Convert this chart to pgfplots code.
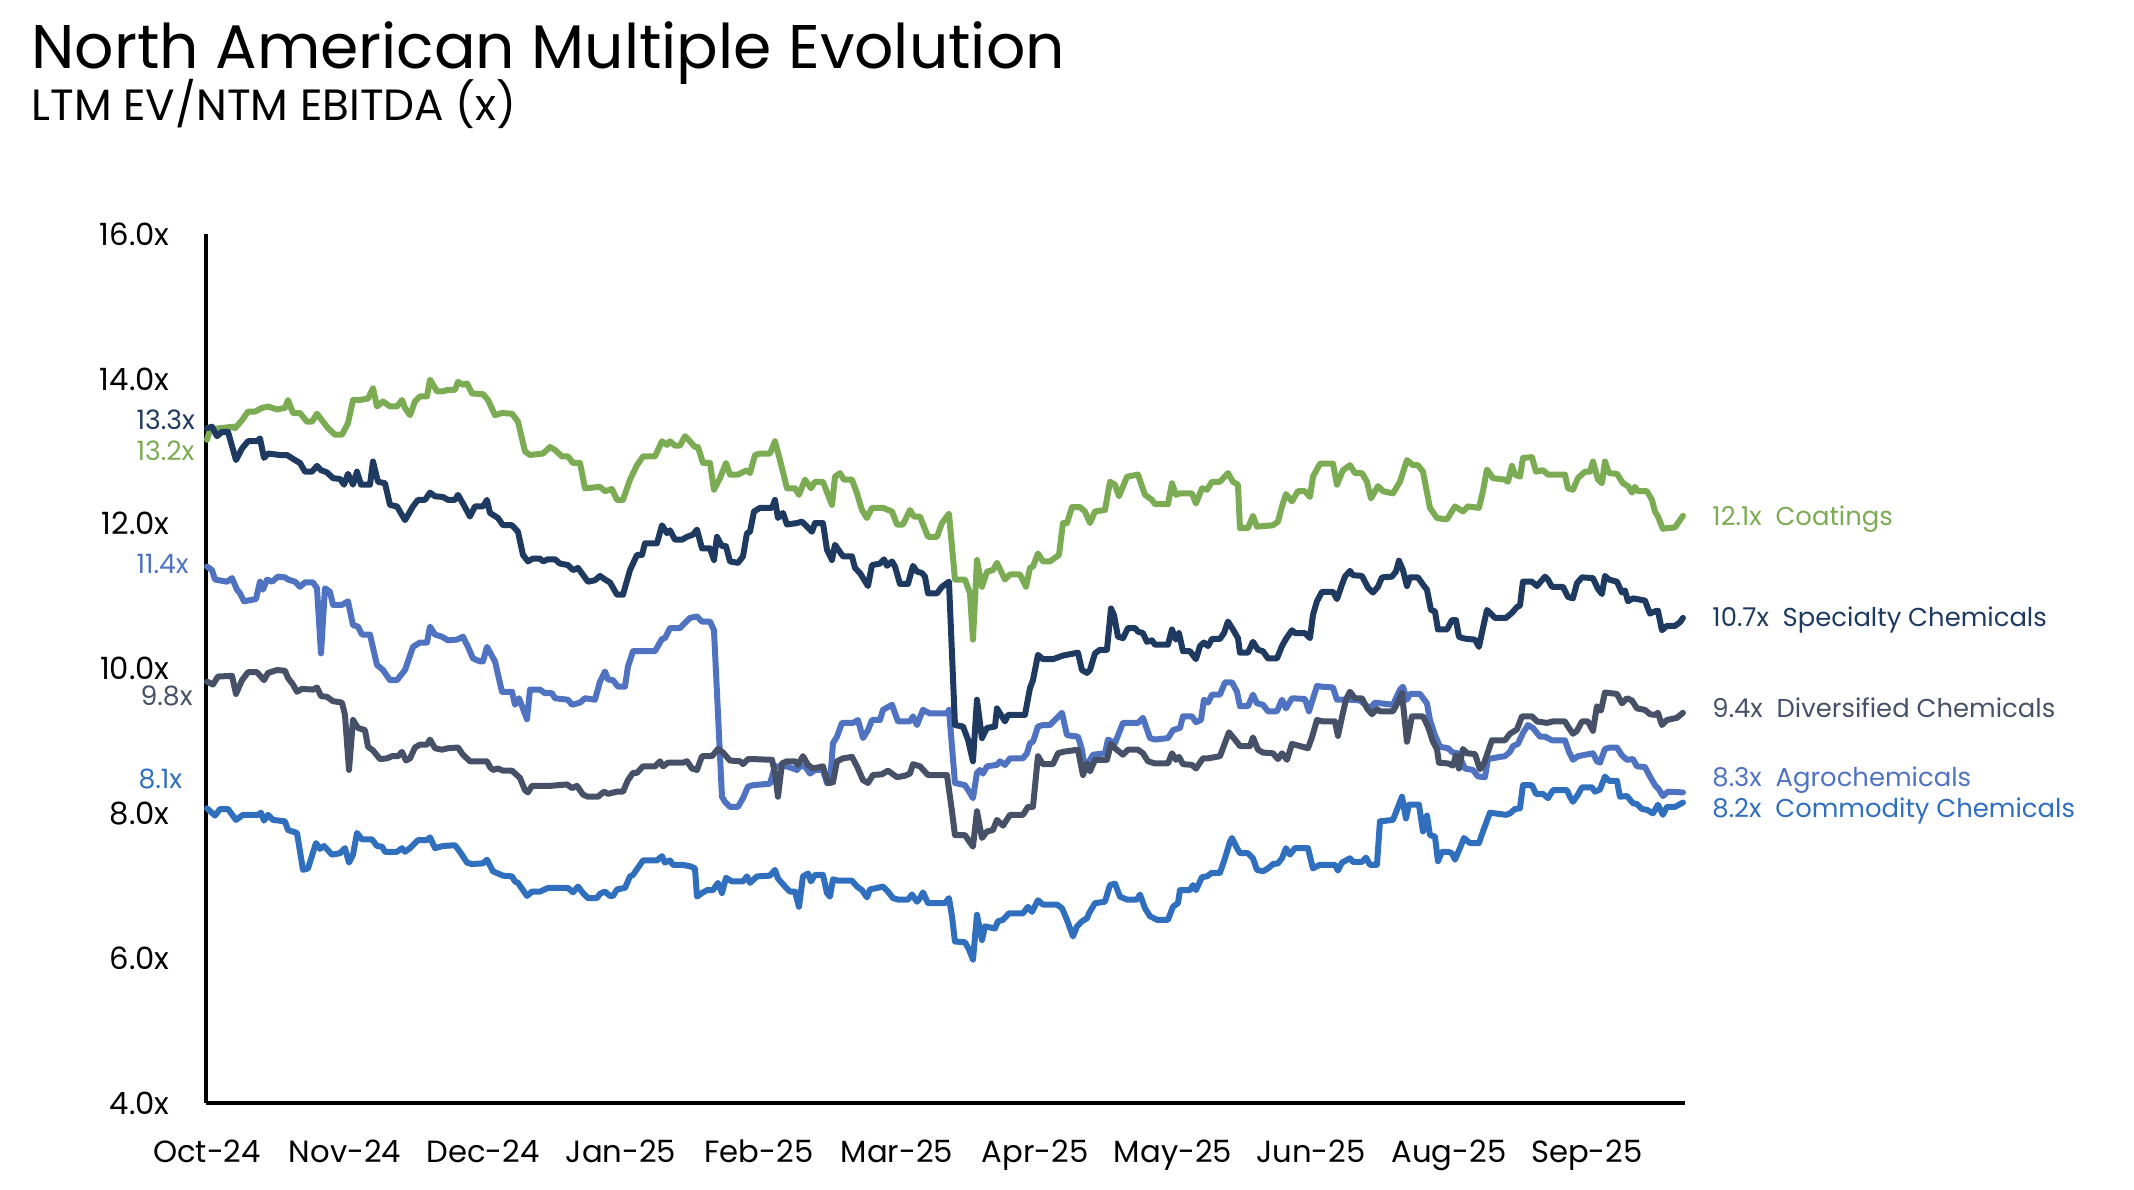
\documentclass[border=0pt]{standalone}
\usepackage{fontspec}
\setmainfont{Poppins}
\usepackage{pgfplots}
\pgfplotsset{compat=1.18}
\definecolor{coat}{HTML}{7BAC53}
\definecolor{spec}{HTML}{1F3A60}
\definecolor{divc}{HTML}{465167}
\definecolor{agro}{HTML}{5073C1}
\definecolor{comm}{HTML}{2F6FBD}
\begin{document}
\begin{tikzpicture}[x=1pt,y=1pt]
\useasboundingbox (-77.25,-32.625) rectangle (723,413.625);
\node[anchor=base west, inner sep=0pt, font=\fontsize{23.1}{26}\selectfont] at (-65.6,387.75) {North American Multiple Evolution};
\node[anchor=base west, inner sep=0pt, font=\fontsize{16.4}{19}\selectfont] at (-65.6,368.25) {LTM EV/NTM EBITDA (x)};
\begin{axis}[
  at={(0,0)}, anchor=south west, scale only axis,
  width=554.6pt, height=325.8pt,
  xmin=0, xmax=1479, ymin=4, ymax=16,
  enlargelimits=false, clip=false,
  axis lines=left,
  axis line style={-, line width=1.25pt, black},
  major tick length=0pt, tick style={draw=none},
  ytick={4,6,8,10,12,14,16},
  yticklabels={4.0x,6.0x,8.0x,10.0x,12.0x,14.0x,16.0x},
  xtick={1,139,277,415,553,691,829,967,1105,1243,1381},
  xticklabels={Oct-24,Nov-24,Dec-24,Jan-25,Feb-25,Mar-25,Apr-25,May-25,Jun-25,Aug-25,Sep-25},
  tick label style={font=\fontsize{11.5}{13}\selectfont, inner sep=0pt, text=black},
  yticklabel style={anchor=east, xshift=-13.5pt},
  xticklabel style={anchor=base, yshift=-22.3pt},
  every axis plot/.append style={line width=2.25pt, line join=round, line cap=round, mark=none},
]
% Coatings
\addplot[coat] coordinates {(1,13.16)(4,13.30)(14,13.32)(26,13.34)(29,13.32)(36,13.43)(42,13.55)(49,13.55)(56,13.60)(62,13.62)(71,13.58)(79,13.60)(82,13.71)(87,13.53)(94,13.53)(101,13.41)(106,13.41)(111,13.52)(116,13.43)(122,13.32)(129,13.23)(136,13.23)(142,13.39)(147,13.71)(154,13.71)(162,13.73)(167,13.87)(171,13.62)(177,13.69)(184,13.62)(191,13.62)(196,13.71)(199,13.60)(204,13.50)(209,13.69)(214,13.76)(221,13.76)(224,13.99)(231,13.83)(237,13.83)(242,13.85)(249,13.85)(252,13.96)(257,13.92)(261,13.94)(266,13.80)(277,13.79)(282,13.71)(289,13.50)(296,13.53)(306,13.52)(312,13.41)(319,13.00)(324,12.95)(337,12.97)(344,13.06)(349,13.02)(356,12.93)(362,12.93)(367,12.84)(374,12.84)(379,12.49)(394,12.51)(399,12.45)(406,12.48)(411,12.33)(417,12.33)(424,12.61)(431,12.81)(437,12.93)(449,12.93)(456,13.14)(461,13.09)(464,13.14)(469,13.08)(474,13.08)(479,13.21)(484,13.14)(489,13.06)(492,13.06)(497,12.84)(504,12.84)(508,12.47)(514,12.63)(520,12.84)(524,12.68)(532,12.68)(541,12.74)(544,12.70)(549,12.95)(554,12.97)(564,12.97)(569,13.14)(574,12.88)(581,12.49)(589,12.49)(593,12.40)(599,12.61)(605,12.49)(609,12.58)(617,12.58)(626,12.26)(629,12.65)(634,12.70)(638,12.61)(646,12.61)(651,12.42)(656,12.19)(661,12.08)(666,12.22)(677,12.22)(686,12.17)(691,11.99)(697,11.99)(704,12.19)(708,12.10)(714,12.10)(722,11.82)(731,11.82)(736,12.01)(743,12.14)(749,11.23)(759,11.23)(764,11.04)(767,10.40)(771,11.50)(776,11.13)(781,11.34)(787,11.36)(791,11.46)(799,11.23)(804,11.30)(814,11.30)(820,11.13)(824,11.39)(827,11.41)(832,11.59)(837,11.48)(844,11.48)(853,11.57)(857,12.01)(861,12.01)(866,12.23)(874,12.23)(879,12.17)(884,12.01)(889,12.17)(899,12.19)(904,12.58)(909,12.54)(913,12.38)(921,12.65)(932,12.68)(939,12.40)(946,12.33)(949,12.27)(962,12.27)(966,12.56)(970,12.40)(974,12.42)(986,12.42)(990,12.28)(996,12.49)(1001,12.47)(1006,12.58)(1014,12.58)(1022,12.70)(1027,12.58)(1032,12.54)(1034,11.94)(1042,11.94)(1047,12.11)(1051,11.96)(1067,11.98)(1072,12.03)(1076,12.24)(1080,12.41)(1086,12.31)(1092,12.45)(1099,12.45)(1104,12.37)(1107,12.65)(1114,12.83)(1127,12.83)(1131,12.54)(1137,12.74)(1144,12.81)(1149,12.70)(1156,12.70)(1161,12.58)(1165,12.35)(1172,12.52)(1177,12.45)(1187,12.42)(1194,12.58)(1201,12.88)(1207,12.81)(1212,12.81)(1217,12.72)(1224,12.22)(1231,12.08)(1241,12.06)(1249,12.24)(1257,12.17)(1262,12.24)(1273,12.22)(1277,12.45)(1281,12.75)(1287,12.63)(1299,12.61)(1302,12.58)(1306,12.80)(1309,12.68)(1314,12.65)(1317,12.91)(1326,12.92)(1330,12.72)(1337,12.74)(1342,12.68)(1359,12.68)(1362,12.49)(1367,12.47)(1372,12.63)(1379,12.72)(1384,12.72)(1387,12.86)(1392,12.61)(1396,12.56)(1399,12.86)(1403,12.70)(1411,12.69)(1417,12.56)(1422,12.52)(1426,12.43)(1429,12.51)(1432,12.45)(1441,12.45)(1446,12.33)(1449,12.17)(1452,12.10)(1457,11.93)(1461,11.94)(1469,11.95)(1477,12.11)};
% Agrochemicals
\addplot[agro] coordinates {(1,11.41)(6,11.36)(9,11.23)(21,11.20)(26,11.25)(31,11.09)(34,11.04)(38,10.93)(50,10.96)(54,11.20)(57,11.09)(61,11.23)(66,11.20)(72,11.27)(79,11.26)(82,11.23)(89,11.20)(94,11.13)(99,11.19)(107,11.19)(111,11.11)(115,10.21)(119,11.11)(124,11.06)(127,10.88)(136,10.88)(142,10.93)(147,10.60)(152,10.58)(156,10.47)(164,10.47)(171,10.05)(177,9.98)(184,9.84)(191,9.84)(199,9.98)(207,10.30)(214,10.36)(221,10.36)(224,10.58)(229,10.47)(236,10.44)(242,10.39)(251,10.40)(257,10.44)(262,10.30)(267,10.14)(274,10.10)(277,10.10)(281,10.30)(289,10.10)(296,9.68)(306,9.68)(309,9.50)(313,9.59)(321,9.30)(324,9.71)(334,9.71)(339,9.66)(346,9.66)(349,9.59)(362,9.57)(366,9.50)(374,9.53)(379,9.59)(389,9.57)(394,9.82)(399,9.96)(402,9.85)(407,9.84)(412,9.75)(419,9.75)(422,10.03)(427,10.24)(449,10.24)(456,10.41)(459,10.42)(464,10.56)(474,10.56)(479,10.63)(484,10.70)(491,10.72)(496,10.65)(504,10.65)(508,10.53)(516,8.23)(519,8.16)(524,8.09)(532,8.09)(537,8.21)(542,8.37)(547,8.39)(564,8.41)(569,8.65)(581,8.65)(591,8.60)(594,8.65)(599,8.65)(604,8.55)(609,8.60)(617,8.60)(621,8.42)(624,8.42)(627,8.97)(631,9.06)(636,9.25)(647,9.25)(652,9.29)(657,9.04)(662,9.15)(666,9.29)(674,9.29)(677,9.43)(686,9.50)(692,9.27)(704,9.27)(707,9.34)(711,9.22)(717,9.43)(724,9.38)(741,9.38)(743,9.43)(749,8.42)(759,8.39)(764,8.28)(767,8.21)(771,8.56)(774,8.60)(777,8.55)(781,8.65)(791,8.67)(794,8.72)(799,8.67)(804,8.76)(817,8.76)(821,8.83)(824,8.97)(827,8.99)(832,9.20)(837,9.22)(844,9.22)(851,9.32)(856,9.39)(861,9.08)(872,9.06)(876,8.88)(879,8.62)(882,8.69)(887,8.81)(899,8.83)(902,9.02)(909,8.97)(917,9.25)(932,9.25)(937,9.32)(944,9.04)(949,9.02)(962,9.04)(967,9.15)(974,9.18)(977,9.34)(986,9.34)(990,9.26)(995,9.29)(998,9.57)(1002,9.53)(1006,9.64)(1014,9.64)(1019,9.81)(1026,9.81)(1031,9.68)(1034,9.48)(1042,9.48)(1047,9.64)(1051,9.52)(1057,9.50)(1062,9.41)(1071,9.41)(1076,9.57)(1080,9.45)(1086,9.59)(1099,9.58)(1103,9.41)(1111,9.76)(1116,9.75)(1127,9.74)(1131,9.57)(1144,9.57)(1154,9.56)(1164,9.45)(1169,9.53)(1187,9.50)(1194,9.71)(1197,9.75)(1201,9.57)(1204,9.65)(1214,9.65)(1221,9.52)(1224,9.29)(1229,9.08)(1234,8.92)(1242,8.90)(1247,8.84)(1252,8.83)(1259,8.62)(1267,8.60)(1272,8.51)(1279,8.50)(1282,8.75)(1294,8.78)(1299,8.79)(1304,8.85)(1307,8.93)(1312,8.96)(1317,9.11)(1322,9.22)(1327,9.18)(1334,9.06)(1339,9.06)(1346,9.01)(1359,9.01)(1363,8.85)(1367,8.74)(1372,8.79)(1387,8.83)(1391,8.72)(1394,8.70)(1399,8.89)(1404,8.91)(1411,8.91)(1416,8.80)(1421,8.74)(1427,8.75)(1431,8.65)(1439,8.64)(1444,8.51)(1449,8.39)(1453,8.33)(1457,8.24)(1462,8.30)(1477,8.29)};
% Commodity Chemicals
\addplot[comm] coordinates {(1,8.07)(9,7.97)(14,8.06)(22,8.06)(30,7.91)(37,7.98)(52,7.98)(55,8.01)(58,7.90)(62,7.98)(67,7.91)(79,7.89)(82,7.77)(91,7.73)(97,7.22)(102,7.24)(110,7.59)(114,7.51)(118,7.55)(126,7.43)(134,7.45)(139,7.52)(143,7.32)(147,7.43)(151,7.73)(156,7.64)(166,7.64)(171,7.55)(176,7.54)(179,7.47)(191,7.47)(196,7.52)(199,7.47)(204,7.52)(212,7.63)(221,7.63)(224,7.67)(229,7.52)(237,7.55)(249,7.56)(254,7.47)(261,7.32)(266,7.30)(277,7.31)(281,7.36)(287,7.20)(292,7.17)(297,7.14)(306,7.13)(309,7.06)(312,7.04)(317,6.94)(321,6.86)(326,6.92)(334,6.92)(342,6.97)(362,6.97)(367,6.91)(372,6.99)(377,6.90)(382,6.83)(391,6.83)(394,6.89)(399,6.92)(404,6.86)(407,6.86)(411,6.95)(419,6.97)(424,7.13)(427,7.15)(434,7.29)(437,7.35)(451,7.35)(456,7.41)(459,7.32)(464,7.35)(467,7.29)(476,7.29)(484,7.27)(489,7.24)(491,6.85)(496,6.90)(501,6.94)(507,6.94)(512,7.04)(516,6.90)(520,7.11)(526,7.06)(537,7.06)(541,7.13)(544,7.04)(551,7.13)(564,7.14)(569,7.22)(572,7.10)(579,6.99)(584,6.92)(589,6.92)(593,6.71)(597,7.13)(602,7.17)(605,7.06)(609,7.15)(617,7.15)(621,6.90)(624,6.85)(627,7.09)(632,7.07)(646,7.07)(651,6.99)(656,6.94)(661,6.84)(664,6.95)(671,6.97)(677,6.99)(682,6.92)(687,6.83)(692,6.81)(702,6.81)(706,6.88)(711,6.78)(714,6.83)(717,6.91)(722,6.76)(739,6.76)(743,6.83)(746,6.58)(749,6.23)(759,6.22)(763,6.12)(767,5.98)(771,6.60)(776,6.25)(779,6.44)(789,6.41)(792,6.51)(797,6.53)(803,6.62)(817,6.62)(822,6.71)(826,6.64)(832,6.80)(837,6.74)(851,6.74)(856,6.69)(861,6.53)(867,6.30)(871,6.44)(876,6.51)(881,6.55)(883,6.62)(889,6.76)(899,6.78)(904,7.01)(909,7.03)(914,6.85)(921,6.81)(931,6.81)(934,6.88)(939,6.69)(944,6.58)(951,6.53)(962,6.53)(967,6.71)(972,6.76)(974,6.94)(984,6.94)(987,7.01)(990,6.94)(996,7.12)(1001,7.13)(1006,7.18)(1014,7.18)(1019,7.38)(1024,7.61)(1026,7.66)(1031,7.52)(1034,7.45)(1042,7.45)(1047,7.38)(1051,7.22)(1057,7.20)(1062,7.24)(1067,7.30)(1072,7.31)(1076,7.38)(1080,7.52)(1084,7.43)(1089,7.52)(1102,7.52)(1107,7.24)(1114,7.29)(1129,7.29)(1132,7.21)(1136,7.32)(1144,7.38)(1147,7.33)(1156,7.33)(1160,7.39)(1164,7.29)(1171,7.29)(1174,7.89)(1187,7.91)(1191,8.05)(1196,8.23)(1200,7.93)(1203,8.12)(1213,8.12)(1217,7.75)(1221,7.97)(1224,7.70)(1229,7.68)(1232,7.34)(1236,7.47)(1242,7.47)(1246,7.45)(1249,7.36)(1254,7.52)(1258,7.66)(1264,7.59)(1273,7.59)(1277,7.75)(1284,8.01)(1300,7.98)(1304,8.00)(1309,8.06)(1314,8.07)(1317,8.39)(1326,8.39)(1330,8.27)(1337,8.27)(1342,8.21)(1347,8.32)(1361,8.32)(1364,8.23)(1367,8.16)(1372,8.26)(1376,8.36)(1386,8.36)(1389,8.30)(1394,8.33)(1399,8.51)(1403,8.45)(1411,8.45)(1414,8.23)(1421,8.24)(1427,8.14)(1431,8.13)(1436,8.06)(1441,8.05)(1447,8.00)(1452,8.12)(1457,7.98)(1461,8.09)(1469,8.09)(1477,8.15)};
% Diversified Chemicals
\addplot[divc] coordinates {(1,9.82)(7,9.78)(12,9.89)(26,9.90)(30,9.65)(36,9.84)(42,9.95)(51,9.95)(58,9.84)(62,9.94)(71,9.98)(79,9.97)(82,9.87)(87,9.78)(91,9.68)(96,9.72)(107,9.71)(111,9.74)(115,9.62)(121,9.61)(127,9.55)(136,9.53)(139,9.36)(143,8.60)(147,9.29)(152,9.18)(159,9.15)(162,8.92)(167,8.87)(174,8.75)(181,8.76)(186,8.79)(192,8.79)(196,8.85)(200,8.73)(204,8.76)(209,8.91)(214,8.95)(221,8.95)(224,9.02)(229,8.90)(236,8.88)(242,8.90)(252,8.91)(257,8.81)(264,8.72)(281,8.72)(284,8.64)(287,8.60)(292,8.62)(297,8.59)(306,8.59)(314,8.49)(319,8.32)(322,8.29)(326,8.38)(344,8.38)(361,8.40)(366,8.35)(371,8.38)(377,8.26)(382,8.23)(392,8.23)(398,8.30)(402,8.27)(411,8.30)(417,8.30)(422,8.46)(427,8.56)(431,8.56)(437,8.65)(449,8.65)(454,8.72)(457,8.65)(462,8.70)(477,8.70)(481,8.72)(486,8.62)(491,8.60)(496,8.79)(506,8.79)(512,8.89)(517,8.84)(524,8.73)(534,8.72)(537,8.68)(542,8.75)(547,8.75)(566,8.74)(569,8.56)(572,8.23)(576,8.69)(581,8.72)(589,8.72)(592,8.67)(597,8.79)(602,8.67)(607,8.62)(617,8.65)(622,8.42)(627,8.43)(631,8.72)(637,8.76)(646,8.78)(651,8.65)(657,8.46)(662,8.42)(667,8.53)(676,8.54)(682,8.59)(691,8.50)(699,8.52)(704,8.55)(707,8.68)(714,8.65)(722,8.53)(741,8.53)(746,8.03)(749,7.70)(759,7.70)(767,7.54)(771,8.03)(776,7.66)(781,7.75)(787,7.77)(791,7.91)(797,7.83)(804,7.98)(817,7.98)(822,8.09)(827,8.09)(832,8.79)(837,8.68)(847,8.68)(852,8.83)(857,8.85)(872,8.88)(877,8.53)(881,8.69)(884,8.58)(889,8.74)(901,8.74)(905,8.96)(909,8.90)(917,8.81)(922,8.88)(932,8.88)(937,8.83)(942,8.72)(949,8.69)(962,8.69)(966,8.83)(970,8.74)(973,8.78)(977,8.68)(986,8.67)(990,8.62)(997,8.76)(1002,8.76)(1014,8.79)(1023,9.12)(1029,9.02)(1034,8.93)(1044,8.93)(1047,9.05)(1052,8.88)(1057,8.84)(1067,8.83)(1072,8.75)(1076,8.83)(1081,8.74)(1086,8.96)(1102,8.90)(1106,9.05)(1111,9.29)(1117,9.27)(1129,9.27)(1132,9.07)(1136,9.33)(1140,9.57)(1144,9.68)(1149,9.59)(1156,9.59)(1161,9.45)(1166,9.37)(1171,9.44)(1174,9.41)(1187,9.41)(1191,9.51)(1196,9.66)(1201,8.99)(1206,9.34)(1217,9.34)(1222,9.20)(1227,8.99)(1231,8.89)(1233,8.70)(1242,8.69)(1247,8.66)(1250,8.80)(1253,8.62)(1257,8.89)(1261,8.83)(1269,8.82)(1274,8.61)(1278,8.69)(1282,8.85)(1286,9.01)(1299,9.01)(1304,9.10)(1311,9.16)(1316,9.34)(1326,9.34)(1331,9.27)(1341,9.25)(1347,9.27)(1359,9.27)(1362,9.20)(1367,9.10)(1371,9.14)(1376,9.27)(1382,9.27)(1387,9.14)(1391,9.48)(1395,9.42)(1399,9.67)(1411,9.65)(1416,9.52)(1421,9.59)(1426,9.56)(1431,9.45)(1439,9.43)(1444,9.37)(1449,9.36)(1452,9.39)(1456,9.22)(1461,9.29)(1471,9.32)(1477,9.39)};
% Specialty Chemicals
\addplot[spec] coordinates {(1,13.32)(6,13.34)(11,13.21)(16,13.27)(22,13.27)(30,12.88)(36,13.04)(42,13.14)(51,13.14)(54,13.18)(58,12.91)(62,12.97)(74,12.95)(81,12.95)(89,12.88)(94,12.84)(99,12.72)(106,12.72)(111,12.80)(115,12.74)(121,12.71)(127,12.63)(134,12.62)(138,12.54)(142,12.69)(147,12.54)(151,12.72)(155,12.54)(164,12.54)(167,12.86)(172,12.58)(179,12.56)(184,12.26)(191,12.24)(199,12.05)(207,12.24)(212,12.33)(219,12.33)(224,12.43)(229,12.38)(237,12.37)(242,12.33)(249,12.33)(252,12.40)(257,12.28)(264,12.10)(269,12.24)(277,12.24)(281,12.33)(284,12.15)(292,12.08)(297,11.98)(306,11.98)(312,11.89)(317,11.57)(322,11.48)(327,11.52)(334,11.52)(337,11.48)(342,11.51)(349,11.51)(354,11.45)(362,11.43)(367,11.36)(372,11.39)(382,11.20)(389,11.22)(394,11.28)(399,11.23)(404,11.19)(411,11.02)(417,11.02)(424,11.36)(431,11.57)(436,11.57)(439,11.73)(451,11.73)(456,11.98)(461,11.87)(464,11.91)(469,11.78)(476,11.78)(481,11.82)(487,11.85)(491,11.92)(496,11.66)(504,11.66)(508,11.50)(511,11.82)(516,11.69)(520,11.69)(524,11.48)(532,11.46)(537,11.55)(541,11.87)(544,11.89)(548,12.17)(554,12.22)(566,12.22)(569,12.33)(572,12.08)(577,12.15)(581,11.99)(591,12.01)(596,12.03)(601,11.96)(606,11.89)(609,12.01)(617,12.01)(621,11.64)(626,11.50)(629,11.71)(637,11.55)(646,11.55)(649,11.39)(654,11.32)(662,11.14)(666,11.43)(674,11.45)(678,11.51)(681,11.42)(686,11.48)(689,11.41)(694,11.17)(702,11.17)(707,11.42)(711,11.34)(716,11.32)(719,11.27)(722,11.04)(731,11.04)(736,11.13)(743,11.20)(749,9.22)(757,9.20)(762,9.02)(767,8.72)(771,9.57)(776,9.04)(781,9.18)(789,9.20)(791,9.45)(799,9.27)(802,9.36)(819,9.36)(824,9.73)(827,9.84)(832,10.19)(837,10.13)(847,10.13)(857,10.18)(872,10.22)(876,9.98)(881,9.94)(884,9.98)(889,10.21)(894,10.26)(901,10.26)(905,10.83)(908,10.74)(912,10.44)(917,10.42)(922,10.56)(929,10.56)(932,10.51)(937,10.49)(941,10.37)(946,10.39)(949,10.33)(962,10.33)(966,10.54)(970,10.40)(973,10.49)(977,10.24)(984,10.24)(990,10.13)(994,10.31)(998,10.36)(1002,10.31)(1006,10.41)(1014,10.41)(1018,10.49)(1022,10.65)(1027,10.54)(1032,10.42)(1034,10.22)(1042,10.22)(1047,10.37)(1052,10.26)(1057,10.24)(1062,10.14)(1071,10.14)(1076,10.31)(1080,10.41)(1086,10.53)(1089,10.49)(1099,10.49)(1104,10.42)(1107,10.74)(1111,10.93)(1116,11.06)(1127,11.06)(1131,10.96)(1136,11.16)(1139,11.27)(1144,11.35)(1147,11.29)(1156,11.28)(1162,11.12)(1167,11.05)(1172,11.13)(1176,11.26)(1186,11.27)(1190,11.34)(1193,11.49)(1197,11.36)(1201,11.14)(1204,11.26)(1212,11.26)(1217,11.16)(1221,11.09)(1225,10.81)(1229,10.79)(1232,10.54)(1241,10.54)(1246,10.67)(1250,10.67)(1253,10.44)(1257,10.42)(1261,10.41)(1269,10.40)(1273,10.30)(1277,10.56)(1281,10.81)(1289,10.70)(1300,10.70)(1306,10.77)(1311,10.85)(1314,10.87)(1317,11.20)(1326,11.20)(1331,11.14)(1339,11.27)(1342,11.23)(1346,11.13)(1357,11.13)(1362,10.99)(1367,10.97)(1371,11.18)(1376,11.26)(1387,11.25)(1392,11.10)(1396,11.03)(1399,11.28)(1403,11.23)(1411,11.20)(1416,11.05)(1419,11.08)(1422,10.93)(1427,10.97)(1439,10.94)(1444,10.76)(1449,10.79)(1452,10.80)(1456,10.53)(1461,10.59)(1469,10.59)(1474,10.64)(1477,10.70)};
% end labels
\begin{scope}[font=\fontsize{9.7}{11}\selectfont]
\node[anchor=base west, inner sep=0pt, text=coat] at (axis cs:1506,11.98) {12.1x\ \ Coatings};
\node[anchor=base west, inner sep=0pt, text=spec] at (axis cs:1506,10.58) {10.7x\ \ Specialty Chemicals};
\node[anchor=base west, inner sep=0pt, text=divc] at (axis cs:1506,9.32) {9.4x\ \ Diversified Chemicals};
\node[anchor=base west, inner sep=0pt, text=agro] at (axis cs:1506,8.37) {8.3x\ \ Agrochemicals};
\node[anchor=base west, inner sep=0pt, text=comm] at (axis cs:1506,7.94) {8.2x\ \ Commodity Chemicals};
\end{scope}
% start labels
\begin{scope}[font=\fontsize{10}{12}\selectfont]
\node[anchor=base west, inner sep=0pt, text=spec] at (axis cs:-70,13.30) {13.3x};
\node[anchor=base west, inner sep=0pt, text=coat] at (axis cs:-70,12.87) {13.2x};
\node[anchor=base west, inner sep=0pt, text=agro] at (axis cs:-70,11.31) {11.4x};
\node[anchor=base west, inner sep=0pt, text=divc] at (axis cs:-66,9.49) {9.8x};
\node[anchor=base west, inner sep=0pt, text=comm] at (axis cs:-68,8.34) {8.1x};
\end{scope}
\end{axis}
\end{tikzpicture}
\end{document}
